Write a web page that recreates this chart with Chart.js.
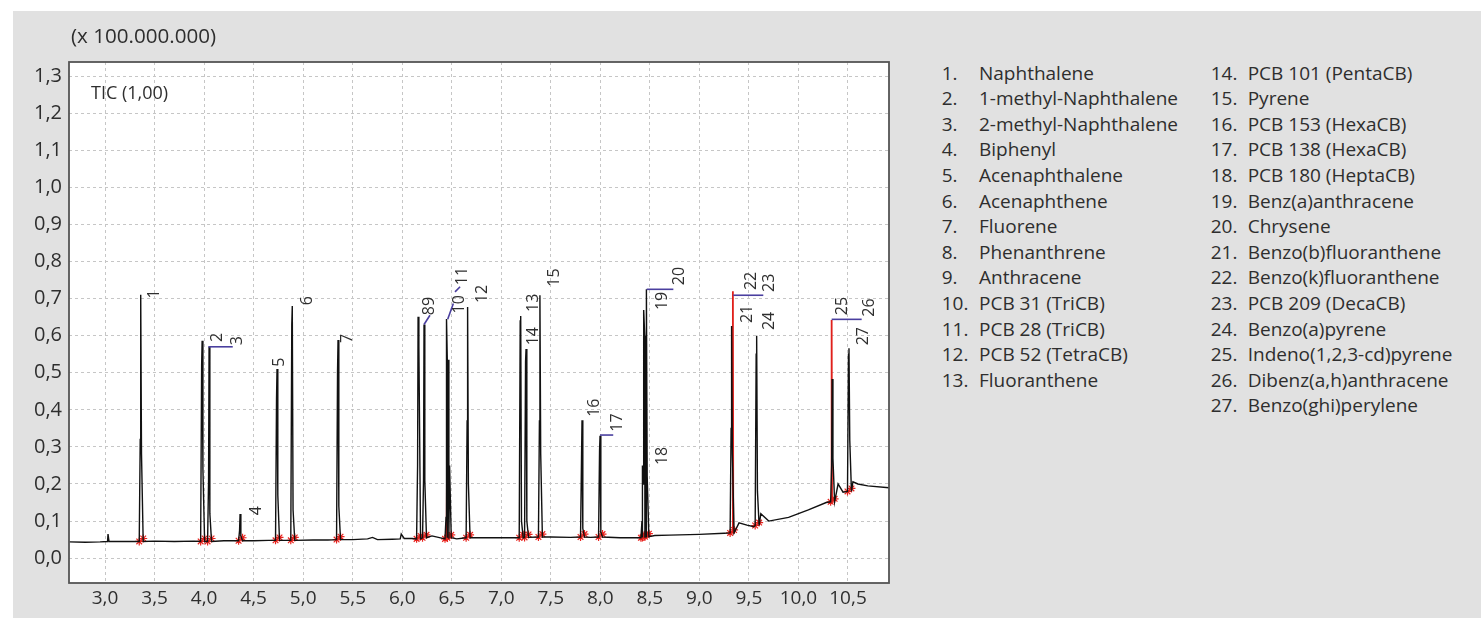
<!DOCTYPE html>
<html>
<head>
<meta charset="utf-8">
<script src="https://cdn.jsdelivr.net/npm/chart.js@4.4.0/dist/chart.umd.min.js"></script>
<style>
  body { margin: 0; width: 1481px; height: 619px; background: #fff; position: relative; overflow: hidden;
         font-family: "Open Sans", sans-serif; color: #2e2e2e; }
  #panel { position: absolute; left: 13px; top: 11px; width: 1468px; height: 607px; background: #e1e1e1; }
  #chart { position: absolute; left: 0; top: 0; }
  .txt { position: absolute; white-space: nowrap; }
  .row { position: absolute; font-size: 19px; line-height: 25.6px; white-space: nowrap; }
</style>
</head>
<body>
<div id="panel"></div>
<canvas id="chart" width="900" height="619"></canvas>
<div class="txt" style="left:71px; top:25px; font-size:20.6px; line-height:20.6px;">(x 100.000.000)</div>
<div class="txt" style="left:91px; top:83.3px; font-size:18px; line-height:18px;">TIC (1,00)</div>
<div id="legend"></div>

<script>
// axis ticks
const xTicks = [3.0, 3.5, 4.0, 4.5, 5.0, 5.5, 6.0, 6.5, 7.0, 7.5, 8.0, 8.5, 9.0, 9.5, 10.0, 10.5];
const yTicks = [0.0, 0.1, 0.2, 0.3, 0.4, 0.5, 0.6, 0.7, 0.8, 0.9, 1.0, 1.1, 1.2, 1.3];

// baseline of the chromatogram (retention time in min, signal x 1e8)
const baseTime = [2.64, 2.8, 2.95, 3.025, 3.03, 3.04, 3.2, 3.5, 3.7, 3.9, 4.2, 4.5, 4.65, 5.1, 5.25, 5.5,
  5.65, 5.7, 5.75, 5.9, 5.98, 5.99, 6.02, 6.1, 6.3, 6.55, 6.8, 7.0, 7.5, 7.7, 7.9, 8.2, 8.55, 8.7, 9.0,
  9.25, 9.4, 9.48, 9.55, 9.62, 9.7, 9.9, 10.1, 10.28, 10.4, 10.45, 10.55, 10.6, 10.7, 10.914];
const baseLevel = [0.044, 0.043, 0.044, 0.045, 0.065, 0.045, 0.045, 0.046, 0.045, 0.046, 0.047, 0.047, 0.048,
  0.049, 0.049, 0.05, 0.052, 0.056, 0.05, 0.051, 0.052, 0.065, 0.053, 0.053, 0.06, 0.052, 0.055, 0.055, 0.057,
  0.056, 0.056, 0.055, 0.061, 0.062, 0.064, 0.067, 0.095, 0.089, 0.085, 0.12, 0.1, 0.11, 0.13, 0.15, 0.2,
  0.178, 0.206, 0.2, 0.195, 0.19];

// peaks (black trace)
const peakTime  = [3.36, 3.98, 4.05, 4.363, 4.736, 4.89, 5.352, 6.16, 6.22, 6.447, 6.47, 6.66, 7.196, 7.25,
  7.39, 7.815, 7.997, 8.425, 8.44, 8.465, 9.325, 9.578, 10.34, 10.51];
const peakTop   = [0.71, 0.586, 0.57, 0.119, 0.51, 0.68, 0.588, 0.651, 0.63, 0.645, 0.535, 0.677, 0.653, 0.564,
  0.709, 0.372, 0.33, 0.25, 0.669, 0.725, 0.626, 0.60, 0.483, 0.566];
const peakLeft  = [0.32, 0.52, 0.21, 0.075, 0.43, 0.63, 0.505, 0.25, 0.21, 0.11, 0.535, 0.37, 0.64, 0.53,
  0.37, 0.27, 0.29, 0.10, 0.40, 0.60, 0.35, 0.55, 0.25, 0.55];
const peakRight = [0.28, 0.24, 0.12, 0.06, 0.17, 0.13, 0.14, 0.57, 0.21, 0.535, 0.25, 0.2, 0.1, 0.1,
  0.28, 0.08, 0.07, 0.2, 0.6, 0.22, 0.28, 0.18, 0.27, 0.318];
const peakBase  = [0.045, 0.045, 0.045, 0.047, 0.048, 0.048, 0.05, 0.052, 0.055, 0.052, 0.055, 0.055, 0.055,
  0.056, 0.057, 0.057, 0.057, 0.055, 0.056, 0.058, 0.068, 0.088, 0.152, 0.18];

// red overlay peaks
const redTime = [6.452, 9.338, 10.335];
const redTop  = [0.25, 0.72, 0.642];
const redBase = [0.055, 0.068, 0.15];

// peak numbers (text, retention time, level where the text starts)
const labelText = ['1', '2', '3', '4', '5', '6', '7', '89', '10', '11', '12', '13', '14', '15', '16', '17',
  '18', '19', '20', '21', '22', '23', '24', '25', '26', '27'];
const labelX = [3.49, 4.128, 4.329, 4.514, 4.746, 5.036, 5.44, 6.264, 6.566, 6.60, 6.80, 7.317, 7.317, 7.525,
  7.93, 8.165, 8.62, 8.62, 8.787, 9.477, 9.51, 9.695, 9.695, 10.436, 10.705, 10.64];
const labelY = [0.70, 0.583, 0.574, 0.116, 0.516, 0.682, 0.58, 0.655, 0.66, 0.736, 0.688, 0.664, 0.574, 0.732,
  0.381, 0.341, 0.251, 0.669, 0.736, 0.634, 0.723, 0.718, 0.615, 0.655, 0.651, 0.574];

// leader lines to the peak numbers [x1, y1, x2, y2]
const leaders = [
  [4.043, 0.57, 4.289, 0.57],
  [6.22, 0.63, 6.28, 0.655],
  [6.459, 0.644, 6.516, 0.687],
  [6.533, 0.718, 6.584, 0.732],
  [7.997, 0.332, 8.13, 0.332],
  [8.468, 0.725, 8.737, 0.725],
  [9.342, 0.709, 9.645, 0.709],
  [10.335, 0.644, 10.638, 0.644]
];

const compounds = ['Naphthalene', '1-methyl-Naphthalene', '2-methyl-Naphthalene', 'Biphenyl',
  'Acenaphthalene', 'Acenaphthene', 'Fluorene', 'Phenanthrene', 'Anthracene', 'PCB 31 (TriCB)',
  'PCB 28 (TriCB)', 'PCB 52 (TetraCB)', 'Fluoranthene', 'PCB 101 (PentaCB)', 'Pyrene',
  'PCB 153 (HexaCB)', 'PCB 138 (HexaCB)', 'PCB 180 (HeptaCB)', 'Benz(a)anthracene', 'Chrysene',
  'Benzo(b)fluoranthene', 'Benzo(k)fluoranthene', 'PCB 209 (DecaCB)', 'Benzo(a)pyrene',
  'Indeno(1,2,3-cd)pyrene', 'Dibenz(a,h)anthracene', 'Benzo(ghi)perylene'];

// compound list on the right
const legend = document.getElementById('legend');
compounds.forEach((name, i) => {
  const col = i < 13 ? 0 : 1;
  const row = col ? i - 13 : i;
  const top = 60.5 + row * 25.6;
  const num = document.createElement('div');
  num.className = 'row';
  num.style.left = (col ? 1210.7 : 941.7) + 'px';
  num.style.top = top + 'px';
  num.textContent = (i + 1) + '.';
  const txt = document.createElement('div');
  txt.className = 'row';
  txt.style.left = (col ? 1247.7 : 979) + 'px';
  txt.style.top = top + 'px';
  txt.textContent = name;
  legend.appendChild(num);
  legend.appendChild(txt);
});

// build the traces
const trace = [];
baseTime.forEach((t, i) => trace.push({x: t, y: baseLevel[i]}));
peakTime.forEach((t, i) => {
  trace.push({x: t - 0.015, y: peakBase[i]});
  trace.push({x: t - 0.005, y: peakLeft[i]});
  trace.push({x: t, y: peakTop[i]});
  trace.push({x: t + 0.008, y: peakRight[i]});
  trace.push({x: t + 0.025, y: peakBase[i]});
});
trace.sort((a, b) => a.x - b.x);

const redTrace = [];
redTime.forEach((t, i) => {
  redTrace.push({x: t - 0.004, y: redBase[i]}, {x: t, y: redTop[i]}, {x: t + 0.004, y: redBase[i]}, {x: t + 0.005, y: null});
});

const marks = [];
peakTime.forEach((t, i) => {
  marks.push({x: t - 0.015, y: peakBase[i]}, {x: t + 0.025, y: peakBase[i] + 0.008});
});

const fmt = v => v.toFixed(1).replace('.', ',');

const plotFrame = {
  id: 'plotFrame',
  beforeDraw(chart) {
    const {ctx, chartArea: a} = chart;
    ctx.save();
    ctx.fillStyle = '#fff';
    ctx.fillRect(a.left, a.top, a.right - a.left, a.bottom - a.top);
    ctx.restore();
  },
  afterDraw(chart) {
    const {ctx, chartArea: a} = chart;
    ctx.save();
    ctx.strokeStyle = '#555';
    ctx.lineWidth = 1.8;
    ctx.strokeRect(a.left, a.top, a.right - a.left, a.bottom - a.top);
    ctx.restore();
  }
};

const peakLabels = {
  id: 'peakLabels',
  afterDatasetsDraw(chart) {
    const {ctx, scales: {x, y}} = chart;
    ctx.save();
    ctx.strokeStyle = '#4a3f9f';
    ctx.lineWidth = 1.6;
    leaders.forEach(([x1, y1, x2, y2]) => {
      ctx.beginPath();
      ctx.moveTo(x.getPixelForValue(x1), y.getPixelForValue(y1));
      ctx.lineTo(x.getPixelForValue(x2), y.getPixelForValue(y2));
      ctx.stroke();
    });
    ctx.fillStyle = '#2e2e2e';
    ctx.font = '16px "Open Sans"';
    ctx.textAlign = 'left';
    ctx.textBaseline = 'alphabetic';
    labelText.forEach((txt, i) => {
      ctx.save();
      ctx.translate(x.getPixelForValue(labelX[i]) + 5.7, y.getPixelForValue(labelY[i]));
      ctx.rotate(-Math.PI / 2);
      ctx.fillText(txt, 0, 0);
      ctx.restore();
    });
    ctx.restore();
  }
};

new Chart(document.getElementById('chart'), {
  type: 'line',
  data: {
    datasets: [
      { data: trace, borderColor: '#111', borderWidth: 1.4, pointRadius: 0, tension: 0 },
      { data: redTrace, borderColor: '#e0201b', borderWidth: 1.8, pointRadius: 0, tension: 0, spanGaps: false },
      { type: 'scatter', data: marks, pointStyle: 'star', pointRadius: 4, borderColor: '#e8231e',
        borderWidth: 1.2, backgroundColor: '#e8231e' }
    ]
  },
  options: {
    responsive: false,
    animation: false,
    devicePixelRatio: 1,
    layout: { padding: { left: 0, right: 11, top: 62, bottom: 0 } },
    plugins: { legend: { display: false }, tooltip: { enabled: false } },
    scales: {
      x: {
        type: 'linear', min: 2.636, max: 10.914,
        afterBuildTicks: s => { s.ticks = xTicks.map(v => ({value: v})); },
        afterFit: s => { s.height = 36; },
        ticks: { callback: fmt, color: '#2e2e2e', font: { family: 'Open Sans', size: 19 }, padding: 4, maxRotation: 0 },
        grid: { color: '#c6c6c6', drawTicks: false },
        border: { display: false, dash: [3, 3] }
      },
      y: {
        type: 'linear', min: -0.067, max: 1.338,
        afterBuildTicks: s => { s.ticks = yTicks.map(v => ({value: v})); },
        afterFit: s => { s.width = 69; },
        ticks: { callback: fmt, color: '#2e2e2e', font: { family: 'Open Sans', size: 20 }, padding: 7 },
        grid: { color: '#c6c6c6', drawTicks: false },
        border: { display: false, dash: [3, 3] }
      }
    }
  },
  plugins: [plotFrame, peakLabels]
});
</script>
</body>
</html>
